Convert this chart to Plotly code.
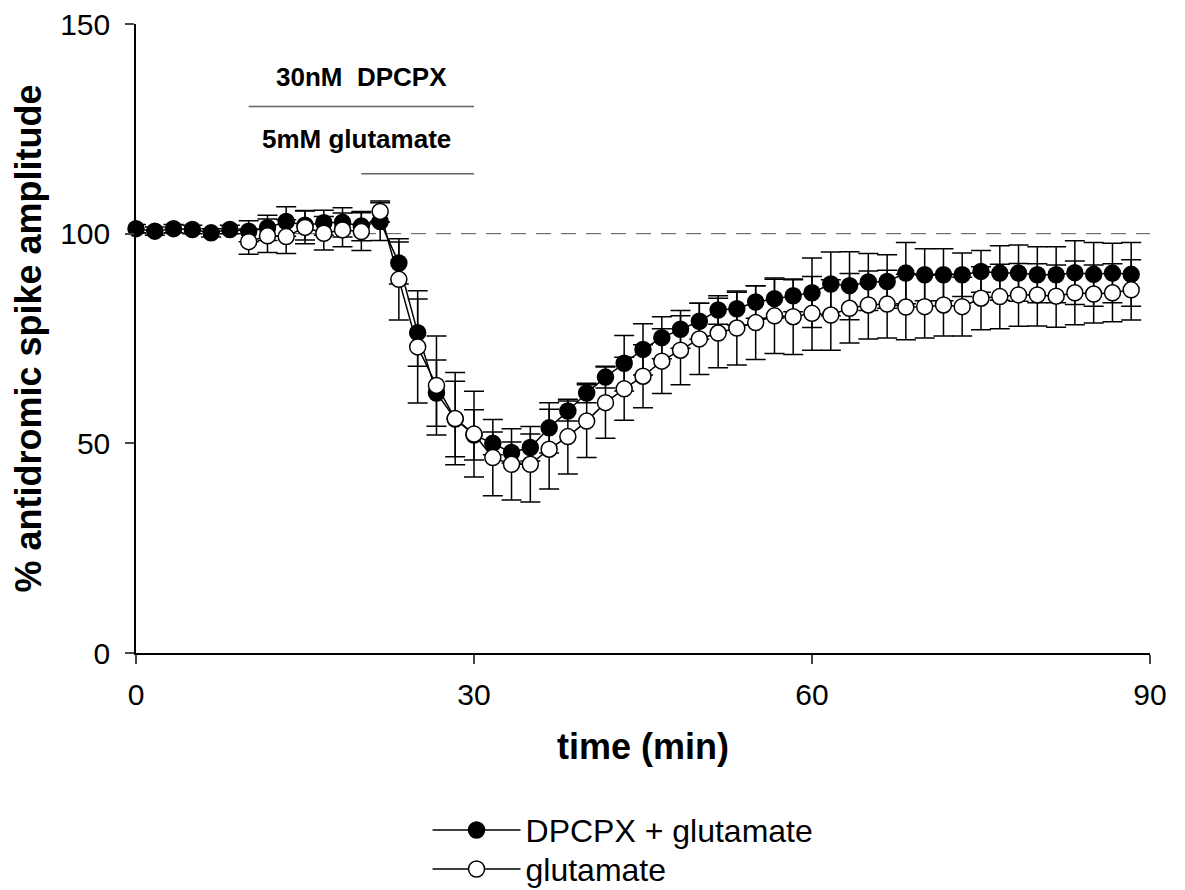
import plotly.graph_objects as go

# time points (min)
times = [0, 1.67, 3.33, 5, 6.67, 8.33, 10, 11.67, 13.33, 15, 16.67, 18.33, 20, 21.67,
         23.33, 25, 26.67, 28.33, 30, 31.67, 33.33, 35, 36.67, 38.33, 40, 41.67, 43.33,
         45, 46.67, 48.33, 50, 51.67, 53.33, 55, 56.67, 58.33, 60, 61.67, 63.33, 65,
         66.67, 68.33, 70, 71.67, 73.33, 75, 76.67, 78.33, 80, 81.67, 83.33, 85, 86.67, 88.33]

dpcpx_glu = [101.2, 100.6, 101.2, 101.0, 100.2, 101.0, 100.6, 101.4, 102.9, 102.0,
             102.6, 102.7, 101.8, 102.9, 93.0, 76.4, 62.0, 55.8, 52.0, 50.0,
             47.8, 49.0, 53.7, 57.7, 62.0, 65.8, 69.1, 72.4, 75.2, 77.2,
             79.1, 81.8, 82.1, 83.7, 84.5, 85.2, 85.9, 88.0, 87.6, 88.5,
             88.6, 90.6, 90.2, 90.2, 90.2, 91.0, 90.6, 90.6, 90.2, 90.2,
             90.7, 90.3, 90.6, 90.3]
dpcpx_glu_err = [1.0, 1.0, 1.0, 1.0, 1.0, 1.0, 2.5, 3.0, 3.5, 3.5,
                 3.0, 3.5, 3.5, 4.5, 5.0, 8.0, 7.9, 9.0, 6.0, 2.7,
                 2.5, 3.2, 6.0, 2.4, 2.3, 2.6, 6.6, 6.1, 5.0, 4.5,
                 4.3, 3.4, 3.9, 3.9, 4.6, 3.8, 8.3, 7.6, 8.1, 6.8,
                 6.4, 7.3, 6.2, 6.2, 5.2, 5.0, 6.5, 6.7, 6.7, 6.7,
                 7.6, 7.6, 7.1, 7.6]

glu_times = times[6:]
glu = [98.1, 99.5, 99.3, 101.5, 100.1, 100.9, 100.5, 105.3, 89.1, 73.0,
       63.8, 55.9, 52.2, 46.6, 45.0, 45.0, 48.6, 51.6, 55.3, 59.7,
       63.0, 66.0, 69.6, 72.2, 74.9, 76.3, 77.5, 78.8, 80.4, 80.2,
       81.0, 80.6, 82.2, 83.0, 83.2, 82.5, 82.6, 83.0, 82.6, 84.6,
       85.0, 85.4, 85.4, 85.1, 85.9, 85.6, 85.9, 86.6]
glu_err = [3.0, 4.0, 4.0, 3.9, 4.0, 4.0, 4.5, 2.5, 9.7, 13.4,
           11.8, 11.0, 10.2, 9.1, 8.5, 9.0, 9.5, 8.9, 8.7, 8.5,
           7.5, 7.5, 7.7, 8.2, 8.5, 8.3, 8.8, 8.8, 9.0, 9.0,
           8.8, 8.4, 8.3, 8.1, 8.1, 7.8, 7.5, 7.4, 7.0, 7.5,
           7.7, 7.5, 7.4, 7.4, 7.6, 6.9, 6.9, 7.2]

x_ticks = [0, 30, 60, 90]
y_ticks = [0, 50, 100, 150]
baseline = 100
dpcpx_period = [10, 30]
glu_period = [20, 30]

FONT = "Liberation Sans, Arial, sans-serif"

fig = go.Figure()

fig.add_trace(go.Scatter(
    x=times, y=dpcpx_glu, name="DPCPX + glutamate", mode="lines+markers",
    line=dict(color="black", width=1.5),
    marker=dict(symbol="circle", size=16, color="black", line=dict(color="black", width=1.5)),
    error_y=dict(type="data", array=dpcpx_glu_err, visible=True, color="black", thickness=1.5, width=10),
    cliponaxis=False, legend="legend",
))
fig.add_trace(go.Scatter(
    x=glu_times, y=glu, name="glutamate", mode="lines+markers",
    line=dict(color="black", width=1.5),
    marker=dict(symbol="circle", size=16, color="white", line=dict(color="black", width=1.5)),
    error_y=dict(type="data", array=glu_err, visible=True, color="black", thickness=1.5, width=10),
    cliponaxis=False, legend="legend2",
))

# baseline dashed line
fig.add_shape(type="line", xref="x", yref="y", x0=0, x1=90, y0=baseline, y1=baseline,
              line=dict(color="#555555", width=1, dash="15px,10px"), layer="below")
# drug application bars
fig.add_shape(type="line", xref="x", yref="y", x0=dpcpx_period[0], x1=dpcpx_period[1],
              y0=130.3, y1=130.3, line=dict(color="#666666", width=1.5))
fig.add_shape(type="line", xref="x", yref="y", x0=glu_period[0], x1=glu_period[1],
              y0=114.3, y1=114.3, line=dict(color="#666666", width=1.5))

fig.add_annotation(x=20.0, y=137.3, xref="x", yref="y", text="<b>30nM\u00a0 DPCPX</b>",
                   showarrow=False, font=dict(family=FONT, size=26, color="black"))
fig.add_annotation(x=19.6, y=122.6, xref="x", yref="y", text="<b>5mM glutamate</b>",
                   showarrow=False, font=dict(family=FONT, size=26, color="black"))

legend_style = dict(xanchor="left", yanchor="top",
                    font=dict(family=FONT, size=32, color="black"),
                    itemwidth=88, bgcolor="rgba(0,0,0,0)")

# page body adds an 8px offset; size/margins compensate so the plot area lands at
# x 136..1150, y 24..653 in the window
fig.update_layout(
    width=1177, height=882,
    margin=dict(l=128, r=35, t=16, b=237, autoexpand=False),
    plot_bgcolor="white", paper_bgcolor="white",
    font=dict(family=FONT, color="black", size=30),
    showlegend=True,
    legend=dict(x=0.2875, y=-0.238, **legend_style),
    legend2=dict(x=0.2875, y=-0.300, **legend_style),
    xaxis=dict(range=[0, 90], tickvals=x_ticks, ticks="outside", ticklen=9, tickwidth=1.5,
               showline=True, linecolor="black", linewidth=1.5, showgrid=False, zeroline=False,
               automargin=False, ticklabeloverflow="allow",
               tickfont=dict(size=30), ticklabelstandoff=5,
               title=dict(text="<b>time (min)</b>", font=dict(size=36), standoff=24)),
    yaxis=dict(range=[0, 150], tickvals=y_ticks, ticks="outside", ticklen=9, tickwidth=1.5,
               showline=True, linecolor="black", linewidth=1.5, showgrid=False, zeroline=False,
               automargin=False, ticklabeloverflow="allow",
               tickfont=dict(size=30), ticklabelstandoff=9,
               title=dict(text="<b>% antidromic spike amplitude</b>", font=dict(size=36), standoff=14)),
)

fig.write_html("out.html")
